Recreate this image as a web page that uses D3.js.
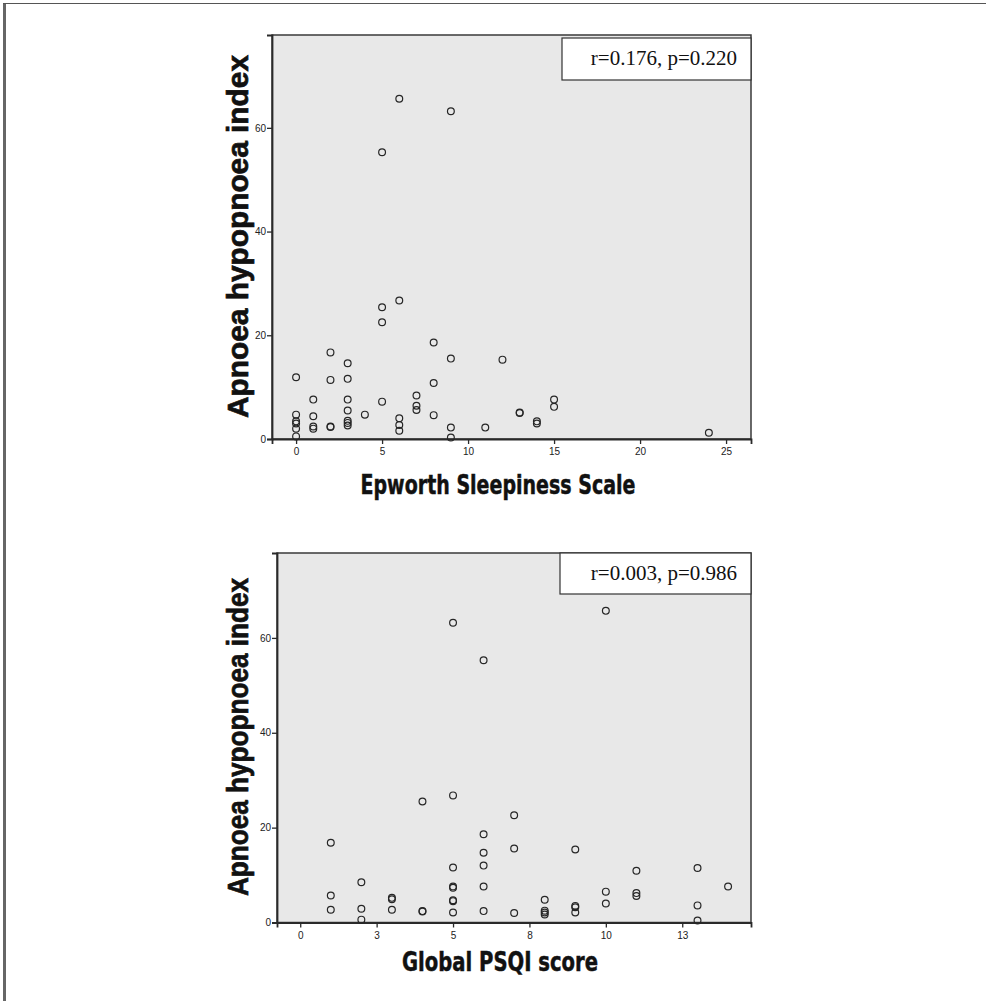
<!DOCTYPE html>
<html>
<head>
<meta charset="utf-8">
<script src="https://cdn.jsdelivr.net/npm/d3@7"></script>
<style>
  body { margin: 0; background: #fff; }
  svg { display: block; }
</style>
</head>
<body>
<div id="chart"></div>
<script>
// Epworth Sleepiness Scale vs AHI
var essX = [0,0,0,0,0,0, 1,1,1,1, 2,2,2,2, 3,3,3,3,3,3,3, 4, 5,5,5,5,
            6,6,6,6,6, 7,7,7, 8,8,8, 9,9,9,9, 11, 12, 13,13, 14,14, 15,15, 24];
var essY = [11.9,4.7,3.4,3.0,2.0,0.5, 7.6,4.4,2.4,2.0, 16.7,11.4,2.4,2.3,
            14.6,11.6,7.6,5.5,3.5,3.1,2.6, 4.7, 55.3,25.4,22.5,7.2,
            65.6,26.7,4.0,2.7,1.6, 8.4,6.4,5.6, 18.6,10.8,4.6,
            63.2,15.5,2.2,0.3, 2.2, 15.3, 5.0,5.1, 3.4,3.0, 7.6,6.2, 1.2];
var essTicks = [0, 5, 10, 15, 20, 25];

// Global PSQI score vs AHI
var psqiX = [1,1,1, 2,2,2, 3,3,3, 4,4,4, 5,5,5,5,5,5,5,5,
             6,6,6,6,6,6, 7,7,7, 8,8,8,8, 9,9,9,9, 10,10,10, 11,11,11, 13,13,13, 14];
var psqiY = [16.8,5.7,2.7, 8.5,2.9,0.6, 5.2,4.9,2.7, 25.5,2.4,2.3,
             63.2,26.8,11.6,7.6,7.3,4.7,4.5,2.1,
             55.3,18.6,14.7,12.0,7.6,2.4, 22.6,15.6,2.0, 4.8,2.5,2.1,1.7,
             15.4,3.5,3.2,2.1, 65.7,6.5,4.0, 10.9,6.2,5.6, 11.5,3.6,0.4, 7.6];
var psqiTicks = [0, 2.5, 5, 7.5, 10, 12.5];
var psqiTickLabels = ["0", "3", "5", "8", "10", "13"];

var ahiTicks = [0, 20, 40, 60];
var statLabels = ["r=0.176, p=0.220", "r=0.003, p=0.986"];
var xTitles = ["Epworth Sleepiness Scale", "Global PSQI score"];
var yTitle = "Apnoea hypopnoea index";

var W = 986, H = 1001;
var svg = d3.select("#chart").append("svg")
    .attr("width", W)
    .attr("height", H);

// frame lines (left and top)
svg.append("line").attr("x1", 4.5).attr("y1", 3).attr("x2", 4.5).attr("y2", H)
    .attr("stroke", "#666").attr("stroke-width", 3);
svg.append("line").attr("x1", 3).attr("y1", 3.5).attr("x2", W).attr("y2", 3.5)
    .attr("stroke", "#555").attr("stroke-width", 1.2);

function drawPanel(p) {
    var x = d3.scaleLinear().domain(p.xDomain).range([p.left, p.right]);
    var y = d3.scaleLinear().domain([0, 77.9]).range([p.bottom, p.top]);

    svg.append("rect")
        .attr("x", p.left).attr("y", p.top)
        .attr("width", p.right - p.left).attr("height", p.bottom - p.top)
        .attr("fill", "#e8e8e8")
        .attr("stroke", "#3a3a3a")
        .attr("stroke-width", 1.5);

    var xAxis = svg.append("g")
        .attr("transform", "translate(0," + p.bottom + ")")
        .call(d3.axisBottom(x).tickValues(p.xTicks)
            .tickFormat(function(d, i) { return p.xLabels[i]; })
            .tickSizeOuter(0).tickSize(5).tickPadding(4));
    var yAxis = svg.append("g")
        .attr("transform", "translate(" + p.left + ",0)")
        .call(d3.axisLeft(y).tickValues(ahiTicks)
            .tickSizeOuter(0).tickSize(5).tickPadding(1));
    [xAxis, yAxis].forEach(function(g) {
        g.select(".domain").attr("stroke", "#2a2a2a").attr("stroke-width", 1.8);
        g.selectAll(".tick line").attr("stroke", "#2a2a2a").attr("stroke-width", 1.3);
        g.selectAll(".tick text")
            .attr("font-family", "Liberation Sans, Arial, sans-serif")
            .attr("font-size", "10px")
            .attr("fill", "#222");
    });

    svg.append("g").selectAll("circle")
        .data(p.xs)
        .enter()
        .append("circle")
        .attr("cx", function(d) { return x(d); })
        .attr("cy", function(d, i) { return y(p.ys[i]); })
        .attr("r", 3.4)
        .attr("fill", "none")
        .attr("stroke", "#262626")
        .attr("stroke-width", 1.2);

    // stats box
    svg.append("rect")
        .attr("x", p.boxX).attr("y", p.boxY)
        .attr("width", p.right - p.boxX).attr("height", p.boxH)
        .attr("fill", "#fff")
        .attr("stroke", "#333")
        .attr("stroke-width", 1.2);
    svg.append("text")
        .attr("x", p.right - 14)
        .attr("y", p.boxY + 27)
        .attr("text-anchor", "end")
        .attr("font-family", "Liberation Serif, Times New Roman, serif")
        .attr("font-size", "21px")
        .attr("fill", "#111")
        .text(p.stat);

    svg.append("text")
        .attr("x", p.xTitleX)
        .attr("y", p.xTitleY)
        .attr("text-anchor", "middle")
        .attr("font-family", "DejaVu Sans, Verdana, sans-serif")
        .attr("font-weight", "bold")
        .attr("font-size", "26px")
        .attr("textLength", p.xTitleLen)
        .attr("lengthAdjust", "spacingAndGlyphs")
        .attr("fill", "#111")
        .attr("stroke", "#111")
        .attr("stroke-width", 0.5)
        .text(p.xTitle);

    svg.append("text")
        .attr("transform", "translate(248," + p.yTitleY + ") rotate(-90)")
        .attr("text-anchor", "middle")
        .attr("font-family", "Liberation Sans, Arial, sans-serif")
        .attr("font-weight", "bold")
        .attr("font-size", "29px")
        .attr("textLength", p.yTitleLen)
        .attr("lengthAdjust", "spacingAndGlyphs")
        .attr("fill", "#111")
        .attr("stroke", "#111")
        .attr("stroke-width", 0.7)
        .text(yTitle);
}

drawPanel({
    xs: essX, ys: essY,
    xDomain: [-1.4, 26.45], xTicks: essTicks, xLabels: essTicks.map(String),
    left: 272, right: 751, top: 35, bottom: 439,
    boxX: 562, boxY: 38, boxH: 42, stat: statLabels[0],
    xTitle: xTitles[0], xTitleX: 498, xTitleY: 494, xTitleLen: 275,
    yTitleY: 236.5, yTitleLen: 363
});

drawPanel({
    xs: psqiX, ys: psqiY,
    xDomain: [-0.76, 14.75], xTicks: psqiTicks, xLabels: psqiTickLabels,
    left: 277, right: 751, top: 553, bottom: 922.5,
    boxX: 560, boxY: 553, boxH: 41, stat: statLabels[1],
    xTitle: xTitles[1], xTitleX: 500, xTitleY: 971, xTitleLen: 196,
    yTitleY: 737, yTitleLen: 318
});
</script>
</body>
</html>
